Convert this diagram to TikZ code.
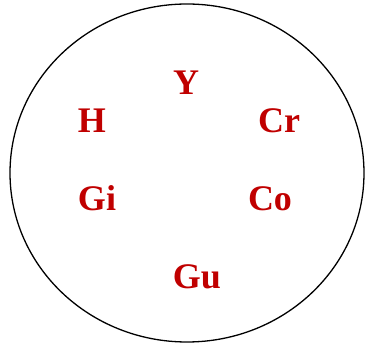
\documentclass[tikz,border=0pt]{standalone}
\usepackage{fontspec}
\setmainfont{Liberation Serif}
\definecolor{lblred}{RGB}{192,0,0}
\begin{document}
\begin{tikzpicture}[x=1pt,y=-1pt,
  lbl/.style={text=lblred,font=\fontsize{36}{40}\selectfont\bfseries,inner sep=0pt,anchor=base}]
\useasboundingbox (0,0) rectangle (365,344);
\draw[line width=1.3pt] (187,173) ellipse [x radius=177, y radius=169];
\node[lbl] (y)  at (186,95)  {Y};
\node[lbl] (h)  at (92,133)  {H};
\node[lbl] (cr) at (279,133) {Cr};
\node[lbl] (gi) at (97,211)  {Gi};
\node[lbl] (co) at (270,211) {Co};
\node[lbl] (gu) at (197,289) {Gu};
\end{tikzpicture}
\end{document}
